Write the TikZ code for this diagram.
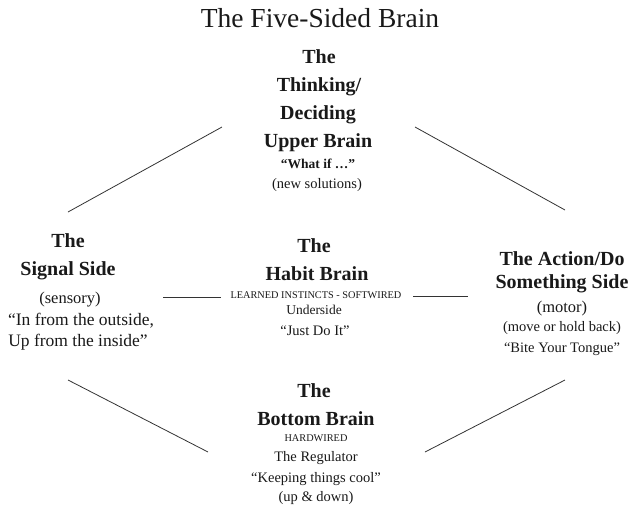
\documentclass[tikz,border=0pt]{standalone}
\usepackage{fontspec}
\setmainfont{Liberation Serif}
\begin{document}
\begin{tikzpicture}[x=1pt,y=-1pt,
  txt/.style={anchor=base,inner sep=0pt,text=black!90},
  head/.style={txt,font=\fontsize{20}{24}\selectfont\bfseries},
  subb/.style={txt,font=\fontsize{13.5}{16}\selectfont\bfseries},
  big/.style={txt,font=\fontsize{16.5}{20}\selectfont},
  quo/.style={txt,font=\fontsize{17.5}{20}\selectfont},
  mid/.style={txt,font=\fontsize{14.5}{18}\selectfont},
  sml/.style={txt,font=\fontsize{13.5}{16}\selectfont},
  caps/.style={txt,font=\fontsize{10.3}{12}\selectfont},
  ttl/.style={txt,font=\fontsize{27.5}{32}\selectfont},
  conn/.style={draw=black!80,line width=0.8pt}]
\useasboundingbox (0,0) rectangle (633,507);
% title
\node[ttl] (title) at (320,27) {The Five-Sided Brain};
% top block
\node[head] (t1) at (319,63) {The};
\node[head] (t2) at (319,91) {Thinking/};
\node[head] (t3) at (318,119) {Deciding};
\node[head] (t4) at (318,147) {Upper Brain};
\node[subb] (t5) at (318,168) {“What if …”};
\node[mid] (t6) at (317,188) {(new solutions)};
% left block
\node[head] (l1) at (68,247) {The};
\node[head] (l2) at (68,275) {Signal Side};
\node[big] (l3) at (70,303) {(sensory)};
\node[quo] (l4) at (81,325) {“In from the outside,};
\node[quo] (l5) at (78,346) {Up from the inside”};
% habit block
\node[head] (h1) at (314,252) {The};
\node[head] (h2) at (317,280) {Habit Brain};
\node[caps] (h3) at (316,298) {LEARNED INSTINCTS - SOFTWIRED};
\node[sml] (h4) at (314,314) {Underside};
\node[mid] (h5) at (315,335) {“Just Do It”};
% right block
\node[head] (r1) at (562,265) {The Action/Do};
\node[head] (r2) at (562,288) {Something Side};
\node[big] (r3) at (562,312) {(motor)};
\node[mid] (r4) at (562,331) {(move or hold back)};
\node[mid] (r5) at (562,352) {“Bite Your Tongue”};
% bottom block
\node[head] (b1) at (314,397) {The};
\node[head] (b2) at (316,425) {Bottom Brain};
\node[caps] (b3) at (316,441) {HARDWIRED};
\node[mid] (b4) at (316,461) {The Regulator};
\node[mid] (b5) at (316,482) {“Keeping things cool”};
\node[mid] (b6) at (316,501) {(up \& down)};
% connector end points
\coordinate (ula) at (68,212); \coordinate (ulb) at (222,127);
\coordinate (ura) at (415,127); \coordinate (urb) at (565,210);
\coordinate (lla) at (68,380); \coordinate (llb) at (208,452);
\coordinate (lra) at (425,452); \coordinate (lrb) at (565,380);
\coordinate (mla) at (163,297); \coordinate (mlb) at (221,297);
\coordinate (mra) at (413,296); \coordinate (mrb) at (468,296);
\draw[conn] (ula) -- (ulb);
\draw[conn] (ura) -- (urb);
\draw[conn] (lla) -- (llb);
\draw[conn] (lra) -- (lrb);
\draw[conn] (mla) -- (mlb);
\draw[conn] (mra) -- (mrb);
\end{tikzpicture}
\end{document}
